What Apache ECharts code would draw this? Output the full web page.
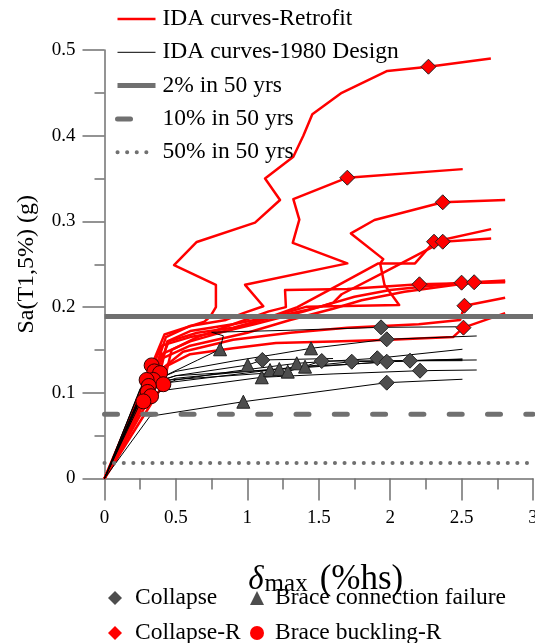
<!DOCTYPE html>
<html>
<head>
<meta charset="utf-8">
<script src="https://cdn.jsdelivr.net/npm/echarts@6/dist/echarts.min.js"></script>
<style>
  html, body { margin: 0; padding: 0; background: #fff; }
  #chart { width: 535px; height: 643px; }
</style>
</head>
<body>
<div id="chart"></div>
<script>
// IDA curves of the retrofitted frame: [max interstory drift (%hs), Sa(T1,5%) (g)]
const retrofit1 = [[0,0],[0.33,0.132],[0.42,0.168],[0.55,0.175],[0.7,0.183],[0.74,0.189],[0.78,0.2],[0.78,0.226],[0.487,0.249],[0.646,0.276],[1.054,0.2985],[1.229,0.325],[1.124,0.35],[1.322,0.3755],[1.392,0.40],[1.455,0.425],[1.661,0.45],[1.98,0.4755],[2.268,0.4805],[2.705,0.49]];
const retrofit2 = [[0,0],[0.349,0.125],[0.43,0.165],[0.6,0.178],[0.85,0.185],[0.972,0.193],[1.112,0.201],[0.984,0.226],[1.70,0.251],[1.318,0.275],[1.364,0.302],[1.322,0.326],[1.70,0.351],[2.508,0.361]];
const retrofit3 = [[0,0],[0.389,0.123],[0.44,0.16],[0.6,0.172],[0.9,0.18],[1.2,0.19],[1.416,0.2005],[2.063,0.2025],[1.96,0.226],[1.93,0.251],[1.952,0.256],[1.725,0.286],[1.89,0.3016],[2.368,0.3223],[2.805,0.325]];
const retrofit4 = [[0,0],[0.342,0.115],[0.45,0.16],[0.65,0.17],[0.9,0.176],[1.1,0.185],[1.35,0.2],[1.64,0.226],[1.917,0.251],[2.174,0.251],[2.307,0.2763],[2.707,0.291]];
const retrofit5 = [[0,0],[0.295,0.115],[0.4,0.155],[0.6,0.165],[0.85,0.172],[1.05,0.18],[1.4,0.195],[1.6,0.205],[1.66,0.215],[1.95,0.24],[2.368,0.2763],[2.707,0.28]];
const retrofit6 = [[0,0],[0.412,0.11],[0.47,0.15],[0.65,0.165],[0.9,0.18],[1.15,0.195],[1.27,0.2],[1.264,0.22],[1.70,0.221],[2.205,0.2266],[2.805,0.229]];
const retrofit7 = [[0,0],[0.31,0.108],[0.4,0.145],[0.6,0.16],[0.85,0.172],[1.1,0.185],[1.5,0.2],[1.75,0.212],[2.0,0.22],[2.50,0.2285],[2.805,0.23]];
const retrofit8 = [[0,0],[0.302,0.101],[0.4,0.14],[0.6,0.155],[1.0,0.17],[1.3,0.185],[1.6,0.198],[1.8,0.208],[2.1,0.218],[2.588,0.229],[2.805,0.231]];
const retrofit9 = [[0,0],[0.326,0.096],[0.42,0.13],[0.6,0.145],[0.9,0.152],[1.2,0.158],[1.6,0.16],[2.0,0.162],[2.44,0.165],[2.513,0.176],[2.805,0.193]];
const retrofit10 = [[0,0],[0.272,0.09],[0.38,0.125],[0.55,0.148],[0.9,0.162],[1.3,0.17],[1.7,0.176],[2.2,0.18],[2.49,0.185],[2.52,0.2016],[2.805,0.211]];

// IDA curves of the 1980 design frame
const design1 = [[0,0],[0.25,0.105],[0.45,0.122],[0.65,0.138],[0.809,0.1508],[0.832,0.1665],[0.75,0.1706],[1.3,0.173],[1.936,0.1764],[2.466,0.177]];
const design2 = [[0,0],[0.26,0.108],[0.5,0.125],[0.9,0.137],[1.2,0.145],[1.446,0.1519],[1.976,0.1624],[2.606,0.1663]];
const design3 = [[0,0],[0.318,0.0726],[0.972,0.0896],[1.976,0.1118],[2.506,0.1158]];
const design4 = [[0,0],[0.27,0.1],[0.5,0.115],[0.9,0.125],[1.346,0.1344],[1.91,0.1403],[2.506,0.1508]];
const design5 = [[0,0],[0.28,0.105],[0.5,0.117],[1.0,0.125],[1.404,0.1305],[2.139,0.1375],[2.606,0.1383]];
const design6 = [[0,0],[0.25,0.098],[0.45,0.112],[1.224,0.1278],[1.731,0.1363],[2.506,0.139]];
const design7 = [[0,0],[0.27,0.095],[0.42,0.103],[1.101,0.1181],[1.6,0.122],[2.209,0.1258],[2.606,0.1266]];
const design8 = [[0,0],[0.26,0.1],[0.45,0.115],[1.283,0.1247],[1.521,0.1371],[2.506,0.1375]];
const design9 = [[0,0],[0.3,0.11],[0.5,0.12],[1.159,0.1266],[1.976,0.1363],[2.506,0.1395]];
const design10 = [[0,0],[0.29,0.108],[0.5,0.12],[1.003,0.1324],[1.105,0.1383],[1.6,0.14]];

// Limit-state points
const collapsePts = [[1.105,0.1383],[1.521,0.1371],[1.731,0.1363],[1.91,0.1403],[1.976,0.1363],[2.139,0.1375],[2.209,0.1258],[1.936,0.1764],[1.976,0.1624],[1.976,0.1118]];
const braceConnPts = [[0.809,0.1508],[1.003,0.1324],[1.101,0.1181],[1.159,0.1266],[1.224,0.1278],[1.283,0.1247],[1.346,0.1344],[1.404,0.1305],[1.446,0.1519],[0.972,0.0896]];
const collapseRPts = [[2.268,0.4805],[1.70,0.351],[2.368,0.3223],[2.307,0.2763],[2.368,0.2763],[2.205,0.2266],[2.50,0.2285],[2.588,0.229],[2.52,0.2016],[2.513,0.176]];
const bucklingRPts = [[0.33,0.132],[0.349,0.125],[0.389,0.123],[0.342,0.115],[0.295,0.115],[0.412,0.11],[0.31,0.108],[0.302,0.101],[0.326,0.096],[0.272,0.09]];

// Hazard levels (Sa at T1)
const hazardNames = ['2% in 50 yrs', '10% in 50 yrs', '50% in 50 yrs'];
const hazardSa = [0.189, 0.075, 0.018];
const driftRange = [0, 3];

const SERIF = '"Liberation Serif", "Times New Roman", serif';
const AXIS_GREY = '#707070';

const retrofitCurves = [retrofit1, retrofit2, retrofit3, retrofit4, retrofit5, retrofit6, retrofit7, retrofit8, retrofit9, retrofit10];
const designCurves = [design1, design2, design3, design4, design5, design6, design7, design8, design9, design10];

const series = [];
retrofitCurves.forEach(c => series.push({
  name: 'IDA curves-Retrofit', type: 'line', data: c, symbol: 'none', silent: true, z: 2,
  itemStyle: { color: '#ff0000' },
  lineStyle: { color: '#ff0000', width: 2.5, join: 'round' }
}));
designCurves.forEach(c => series.push({
  name: 'IDA curves-1980 Design', type: 'line', data: c, symbol: 'none', silent: true, z: 3,
  itemStyle: { color: '#000' },
  lineStyle: { color: '#000000', width: 1 }
}));
const hazardStyles = [
  { color: AXIS_GREY, width: 5, type: 'solid', cap: 'butt' },
  { color: AXIS_GREY, width: 5, type: [13, 25.3], cap: 'round' },
  { color: AXIS_GREY, width: 4, type: [0.1, 9.5], cap: 'round' }
];
hazardNames.forEach((n, i) => series.push({
  name: n, type: 'line', symbol: 'none', silent: true, z: 4,
  itemStyle: { color: AXIS_GREY },
  data: driftRange.map(x => [x, hazardSa[i]]),
  lineStyle: hazardStyles[i]
}));
series.push({
  name: 'Collapse', type: 'scatter', data: collapsePts, symbol: 'diamond', symbolSize: 15, z: 6,
  itemStyle: { color: '#4d4d4d', borderColor: '#222', borderWidth: 1, opacity: 1 }
});
series.push({
  name: 'Brace connection failure', type: 'scatter', data: braceConnPts, symbol: 'triangle', symbolSize: 13, z: 6,
  itemStyle: { color: '#4d4d4d', borderColor: '#222', borderWidth: 1, opacity: 1 }
});
series.push({
  name: 'Collapse-R', type: 'scatter', data: collapseRPts, symbol: 'diamond', symbolSize: 15, z: 7,
  itemStyle: { color: '#ff0000', borderColor: '#222', borderWidth: 1, opacity: 1 }
});
series.push({
  name: 'Brace buckling-R', type: 'scatter', data: bucklingRPts, symbol: 'circle', symbolSize: 15, z: 7,
  itemStyle: { color: '#ff0000', borderColor: '#300', borderWidth: 1, opacity: 1 }
});

const legendText = { fontFamily: SERIF, fontSize: 23.5, color: '#000', lineHeight: 23 };

// one single-entry legend per marker type, placed in a 2 x 2 block under the axis
function markerLegend(name, icon, left, top, gap) {
  return {
    orient: 'horizontal', left: left, top: top, padding: 0,
    itemWidth: 14, itemHeight: 14, selectedMode: false,
    data: [{ name: name, icon: icon }],
    itemStyle: { borderWidth: 0 },
    textStyle: Object.assign({}, legendText, { lineHeight: 22, padding: [0, 0, 0, gap] })
  };
}

const option = {
  animation: false,
  backgroundColor: '#fff',
  textStyle: { fontFamily: SERIF },
  grid: { left: 104.5, right: 2, top: 50, bottom: 164.5, containLabel: false, outerBoundsMode: 'none' },
  legend: [
    {
      orient: 'vertical', left: 115, top: 7, padding: 0, itemWidth: 38, itemHeight: 14, itemGap: 9.3,
      selectedMode: false,
      data: ['IDA curves-Retrofit', 'IDA curves-1980 Design'].concat(hazardNames),
      itemStyle: { opacity: 0 },
      lineStyle: { width: 'inherit', type: 'inherit', cap: 'inherit' },
      textStyle: Object.assign({ padding: [0, 0, 0, 2] }, legendText)
    },
    markerLegend('Collapse', 'diamond', 108, 586, 8),
    markerLegend('Collapse-R', 'diamond', 108, 621, 8),
    markerLegend('Brace connection failure', 'triangle', 250, 586, 6),
    markerLegend('Brace buckling-R', 'circle', 250, 621, 6)
  ],
  xAxis: {
    type: 'value', min: 0, max: 3, interval: 0.5,
    name: '{d|δ}{m|max}{p|(%hs)}', nameLocation: 'middle', nameGap: 84,
    nameTextStyle: {
      padding: [0, 0, 0, 14],
      rich: {
        d: { fontFamily: SERIF, fontSize: 33, fontStyle: 'italic', color: '#000' },
        m: { fontFamily: SERIF, fontSize: 25, color: '#000', padding: [8, 0, 0, 1] },
        p: { fontFamily: SERIF, fontSize: 35, color: '#000', padding: [0, 0, 0, 12] }
      }
    },
    axisLine: { show: true, onZero: false, lineStyle: { color: AXIS_GREY, width: 1.5 } },
    axisTick: { show: true, inside: false, length: 22, lineStyle: { color: AXIS_GREY, width: 1.5 } },
    minorTick: { show: true, splitNumber: 2, length: 11, lineStyle: { color: AXIS_GREY, width: 1.5 } },
    axisLabel: { margin: 30, fontFamily: SERIF, fontSize: 19, color: '#000' },
    splitLine: { show: false }
  },
  yAxis: {
    type: 'value', min: 0, max: 0.5, interval: 0.1,
    name: 'Sa(T1,5%) (g)', nameLocation: 'middle', nameGap: 66,
    nameTextStyle: { fontFamily: SERIF, fontSize: 24, color: '#000' },
    axisLine: { show: true, onZero: false, lineStyle: { color: AXIS_GREY, width: 1.5 } },
    axisTick: { show: true, inside: false, length: 22, lineStyle: { color: AXIS_GREY, width: 1.5 } },
    minorTick: { show: true, splitNumber: 2, length: 10, lineStyle: { color: AXIS_GREY, width: 1.5 } },
    axisLabel: { margin: 29, fontFamily: SERIF, fontSize: 19, color: '#000' },
    splitLine: { show: false }
  },
  series: series
};

const chart = echarts.init(document.getElementById('chart'), null, { renderer: 'canvas' });
chart.setOption(option);
</script>
</body>
</html>
